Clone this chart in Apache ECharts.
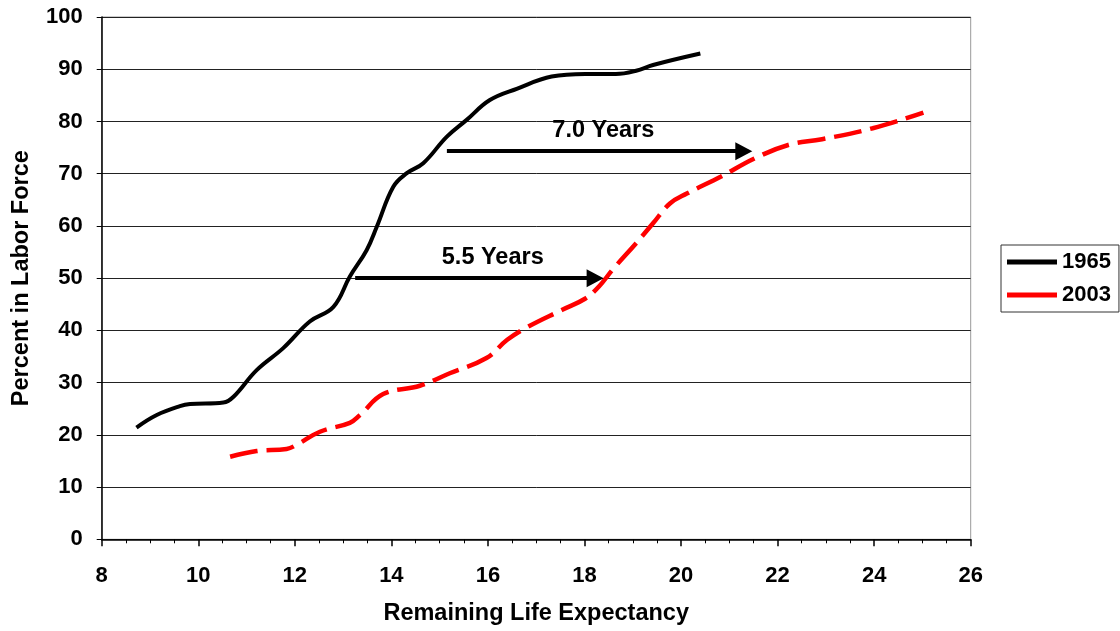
<!DOCTYPE html>
<html>
<head>
<meta charset="utf-8">
<script src="https://cdn.jsdelivr.net/npm/echarts@6/dist/echarts.min.js"></script>
<style>html,body{margin:0;padding:0;background:#fff}#c{width:1120px;height:631px}</style>
</head>
<body>
<div id="c"></div>
<script>
// Data: [remaining life expectancy, percent in labor force]
const series1965 = [
  [8.72,21.4],[9.14,23.8],[9.62,25.5],[9.83,25.9],[10.52,26.2],[10.73,27.3],
  [11.21,32.4],[11.76,36.6],[12.31,41.7],[12.80,44.5],[13.14,50.3],[13.49,55.4],
  [13.70,59.9],[14.04,67.5],[14.32,70.1],[14.66,72.0],[15.15,77.1],[15.56,80.3],
  [16.04,84.1],[16.61,86.3],[17.32,88.6],[18.02,89.1],[18.65,89.1],[19.07,89.7],
  [19.42,90.8],[20.40,93.0]
];
const series2003 = [
  [10.66,15.8],[11.21,16.9],[11.83,17.3],[12.04,18.1],[12.52,20.6],[13.14,22.3],
  [13.35,23.8],[13.83,27.8],[14.59,29.4],[15.21,31.8],[15.97,34.7],[16.40,38.2],
  [16.83,40.7],[17.53,43.9],[18.02,46.1],[18.30,48.4],[18.58,51.6],[19.07,56.7],
  [19.42,60.5],[19.77,64.3],[20.12,66.2],[20.82,69.4],[21.52,72.9],[22.22,75.5],
  [22.92,76.6],[23.97,78.7],[25.02,81.7]
];
const seriesNames = ['1965','2003'];
const arrows = [
  {from:[15.15,74.3], to:[21.3,74.3]},
  {from:[13.25,50.0], to:[18.22,50.0]}
];
const arrowLabels = [[18.39,78.2,'7.0 Years'],[16.1,53.9,'5.5 Years']];
const xTicks = {min:8, max:26, interval:2};
const yTicks = {min:0, max:100, interval:10};

const font = 'Liberation Sans, Arial, sans-serif';
const chart = echarts.init(document.getElementById('c'), null, {renderer:'canvas'});
chart.setOption({
  animation:false,
  backgroundColor:'#fff',
  grid:{left:101.7, top:17, right:149.3, bottom:91.7, show:true, borderColor:'#999', borderWidth:1, backgroundColor:'transparent'},
  legend:{
    orient:'vertical', left:1001, top:245, width:130,
    data:[
      {name:'1965', icon:'rect', itemStyle:{color:'#000'}},
      {name:'2003', icon:'rect', itemStyle:{color:'#ff0000'}}
    ],
    itemWidth:50, itemHeight:5, itemGap:11,
    borderColor:'#333', borderWidth:1, padding:[6,8,6,6],
    textStyle:{fontFamily:font, fontWeight:'bold', fontSize:22, color:'#000'}
  },
  xAxis:{
    type:'value', min:xTicks.min, max:xTicks.max, interval:xTicks.interval,
    name:'Remaining Life Expectancy', nameLocation:'middle', nameGap:62,
    nameTextStyle:{fontFamily:font, fontWeight:'bold', fontSize:23.5, color:'#000'},
    axisLine:{show:true, lineStyle:{color:'#000', width:1.5}},
    axisTick:{show:true, inside:false, length:7, lineStyle:{color:'#000', width:1.5}},
    minorTick:{show:true, splitNumber:4, length:4, lineStyle:{color:'#000', width:1}},
    axisLabel:{margin:26, fontFamily:font, fontWeight:'bold', fontSize:22, color:'#000'},
    splitLine:{show:false}
  },
  yAxis:{
    type:'value', min:yTicks.min, max:yTicks.max, interval:yTicks.interval,
    name:'Percent in Labor Force', nameLocation:'middle', nameGap:68,
    nameTextStyle:{fontFamily:font, fontWeight:'bold', fontSize:23.5, color:'#000'},
    axisLine:{show:true, lineStyle:{color:'#000', width:1.5}},
    axisTick:{show:true, inside:false, length:5, lineStyle:{color:'#000', width:1}},
    axisLabel:{margin:19, fontFamily:font, fontWeight:'bold', fontSize:22, color:'#000'},
    splitLine:{show:true, lineStyle:{color:'#222', width:1}}
  },
  series:[
    {
      name:seriesNames[0], type:'line', data:series1965, smooth:0.4, symbol:'none',
      lineStyle:{color:'#000', width:4},
      itemStyle:{color:'#000'},
      markLine:{
        silent:true, symbol:['none','triangle'], symbolSize:[18,17], animation:false,
        label:{show:false},
        lineStyle:{color:'#000', width:4, type:'solid'},
        itemStyle:{color:'#000'},
        data:arrows.map(a=>[{coord:a.from},{coord:a.to}])
      }
    },
    {
      name:seriesNames[1], type:'line', data:series2003, smooth:0.4, symbol:'none',
      lineStyle:{color:'#ff0000', width:4.5, type:[28,9]},
      itemStyle:{color:'#ff0000'}
    },
    {
      name:'labels', type:'scatter', data:arrowLabels, symbolSize:1, silent:true,
      itemStyle:{opacity:1, color:'rgba(0,0,0,0)'},
      label:{show:true, position:'inside', formatter:p=>p.data[2], opacity:1,
        fontFamily:font, fontWeight:'bold', fontSize:23.5, color:'#000'}
    }
  ]
});
</script>
</body>
</html>
